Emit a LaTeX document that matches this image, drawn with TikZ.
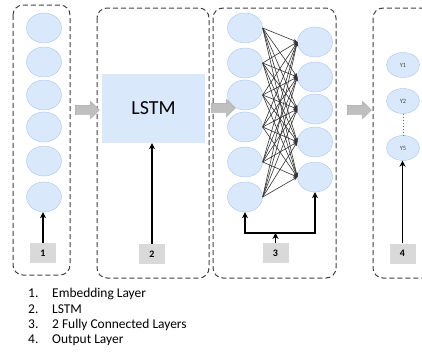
\documentclass[tikz,border=0pt]{standalone}
\usepackage{fontspec}
\setmainfont{Carlito}
\usepackage{tikz}
\usetikzlibrary{shapes.geometric,shapes.arrows,arrows.meta}
\definecolor{cellblue}{HTML}{DAE8FC}
\definecolor{cellline}{HTML}{A9C4EB}
\tikzset{cell/.style={ellipse, draw=cellline, fill=cellblue, minimum width=35bp, minimum height=30bp, inner sep=0pt}}
\tikzset{ycell/.style={ellipse, draw=cellline, fill=cellblue, minimum width=33bp, minimum height=25bp, inner sep=0pt, font=\fontsize{6.5}{6.5}\selectfont, text=black!70}}
\tikzset{layerbox/.style={draw=black!75, line width=1bp, dash pattern=on 5bp off 3bp, rounded corners=10bp}}
\tikzset{tag/.style={fill=black!15, minimum width=26bp, minimum height=20bp, inner sep=0pt, font=\bfseries\fontsize{10}{10}\selectfont}}
\tikzset{feed/.style={line width=1.3bp, -{Stealth[length=6bp,width=6bp]}}}
\tikzset{link/.style={black!80, line width=0.6bp, -{Stealth[length=4bp,width=3.5bp]}}}
\tikzset{flow/.style={single arrow, draw=black!35, fill=black!25, minimum height=24bp, minimum width=0pt, single arrow head extend=4bp, inner sep=4.5bp}}
\tikzset{legend/.style={anchor=west, inner sep=0pt, font=\fontsize{13.5}{13.5}\selectfont}}

\begin{document}
\begin{tikzpicture}[x=1bp, y=-1bp]
    \useasboundingbox (0,0) rectangle (422,354);
    \clip (0,0) rectangle (422,354);
    % layer frames
    \draw[layerbox] (13,5) rectangle (70,275);
    \draw[layerbox] (97,8) rectangle (209,278);
    \draw[layerbox] (213,8) rectangle (336,278);
    \draw[layerbox] (373,8) rectangle (440,278);
    % embedding layer
    \foreach \y [count=\i] in {28,62,95,127,161,197}
      \node[cell] (e\i) at (44,\y) {};
    \node[tag] (t1) at (43,253) {1};
    \draw[feed] (t1.north) -- (t1.north |- e6.south);
    % lstm
    \node[fill=cellblue, minimum width=103bp, minimum height=69bp, font=\fontsize{20}{20}\selectfont] (lstm) at (153.5,108.5) {LSTM};
    \node[tag] (t2) at (152,254) {2};
    \draw[feed] (t2.north) -- (t2.north |- lstm.south);
    % fully connected layers
    \foreach \y [count=\i] in {28,63,95,127,162,197}
      \node[cell] (a\i) at (245,\y) {};
    \foreach \y [count=\j] in {42,77,109,142,177}
      \node[cell] (b\j) at (315,\y) {};
    \foreach \i in {1,...,6}
      \foreach \j in {1,...,5}
        \draw[link] (a\i.east) -- (b\j.west);
    \node[tag] (t3) at (275.5,253) {3};
    \coordinate (j3) at (275.5,233);
    \draw[feed] (t3.north) -- (j3);
    \draw[feed] (j3) -| (a6.south);
    \draw[feed] (j3) -| (b5.south);
    % output layer
    \node[ycell] (y1) at (403,65) {Y1};
    \node[ycell] (y2) at (403,101) {Y2};
    \node[ycell] (y5) at (403,148) {Y5};
    \draw[dotted, line width=1bp, black!60] (y2) -- (y5);
    \node[tag] (t4) at (402.5,253.5) {4};
    \draw[feed] (t4.north) -- (t4.north |- y5.south);
    % block arrows
    \node[flow] (f12) at (85,110) {};
    \node[flow] (f23) at (221,108) {};
    \node[flow] (f34) at (357,110) {};
    % legend
    \node[legend] (l1) at (28,294) {\makebox[24bp][l]{1.}Embedding Layer};
    \node[legend] (l2) at (28,309.5) {\makebox[24bp][l]{2.}LSTM};
    \node[legend] (l3) at (28,325) {\makebox[24bp][l]{3.}2 Fully Connected Layers};
    \node[legend] (l4) at (28,340.5) {\makebox[24bp][l]{4.}Output Layer};
\end{tikzpicture}
\end{document}
